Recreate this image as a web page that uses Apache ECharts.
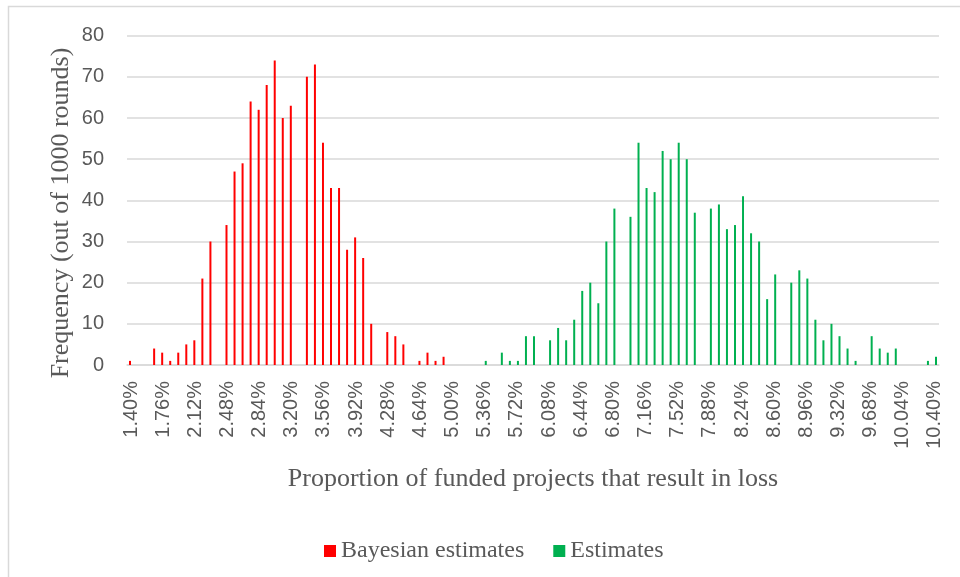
<!DOCTYPE html>
<html>
<head>
<meta charset="utf-8">
<script src="https://cdn.jsdelivr.net/npm/echarts@6/dist/echarts.min.js"></script>
<style>
  html, body { margin: 0; padding: 0; background: #ffffff; }
  #chart { width: 960px; height: 577px; }
</style>
</head>
<body>
<div id="chart"></div>
<script>
// Bin labels (0.09% wide bins)
var categories = [
  "1.40%","1.49%","1.58%","1.67%","1.76%","1.85%","1.94%","2.03%","2.12%","2.21%",
  "2.30%","2.39%","2.48%","2.57%","2.66%","2.75%","2.84%","2.93%","3.02%","3.11%",
  "3.20%","3.29%","3.38%","3.47%","3.56%","3.65%","3.74%","3.83%","3.92%","4.01%",
  "4.10%","4.19%","4.28%","4.37%","4.46%","4.55%","4.64%","4.73%","4.82%","4.91%",
  "5.00%","5.09%","5.18%","5.27%","5.36%","5.45%","5.54%","5.63%","5.72%","5.81%",
  "5.90%","5.99%","6.08%","6.17%","6.26%","6.35%","6.44%","6.53%","6.62%","6.71%",
  "6.80%","6.89%","6.98%","7.07%","7.16%","7.25%","7.34%","7.43%","7.52%","7.61%",
  "7.70%","7.79%","7.88%","7.97%","8.06%","8.15%","8.24%","8.33%","8.42%","8.51%",
  "8.60%","8.69%","8.78%","8.87%","8.96%","9.05%","9.14%","9.23%","9.32%","9.41%",
  "9.50%","9.59%","9.68%","9.77%","9.86%","9.95%","10.04%","10.13%","10.22%","10.31%",
  "10.40%"
];

var bayesianEstimates = [
  1, 0, 0, 4, 3, 1, 3, 5, 6, 21,
  30, 0, 34, 47, 49, 64, 62, 68, 74, 60,
  63, 0, 70, 73, 54, 43, 43, 28, 31, 26,
  10, 0, 8, 7, 5, 0, 1, 3, 1, 2,
  0, 0, 0, 0, 0, 0, 0, 0, 0, 0,
  0, 0, 0, 0, 0, 0, 0, 0, 0, 0,
  0, 0, 0, 0, 0, 0, 0, 0, 0, 0,
  0, 0, 0, 0, 0, 0, 0, 0, 0, 0,
  0, 0, 0, 0, 0, 0, 0, 0, 0, 0,
  0, 0, 0, 0, 0, 0, 0, 0, 0, 0,
  0
];

var estimates = [
  0, 0, 0, 0, 0, 0, 0, 0, 0, 0,
  0, 0, 0, 0, 0, 0, 0, 0, 0, 0,
  0, 0, 0, 0, 0, 0, 0, 0, 0, 0,
  0, 0, 0, 0, 0, 0, 0, 0, 0, 0,
  0, 0, 0, 0, 1, 0, 3, 1, 1, 7,
  7, 0, 6, 9, 6, 11, 18, 20, 15, 30,
  38, 0, 36, 54, 43, 42, 52, 50, 54, 50,
  37, 0, 38, 39, 33, 34, 41, 32, 30, 16,
  22, 0, 20, 23, 21, 11, 6, 10, 7, 4,
  1, 0, 7, 4, 3, 4, 0, 0, 0, 1,
  2
];

var yTicks = { min: 0, max: 80, interval: 10 };

var textColor = '#595959';
var gridColor = '#d9d9d9';
var serif = '"Liberation Serif", "Times New Roman", serif';
var sans = '"Liberation Sans", Arial, sans-serif';

var chart = echarts.init(document.getElementById('chart'), null, { renderer: 'canvas' });

chart.setOption({
  backgroundColor: '#ffffff',
  animation: false,
  grid: { left: 127, right: 21, top: 35.7, bottom: 212, containLabel: false },
  legend: {
    left: 324,
    top: 539,
    padding: 0,
    itemWidth: 12,
    itemHeight: 12,
    itemGap: 29,
    icon: 'rect',
    textStyle: { fontFamily: serif, fontSize: 24, color: textColor },
    data: ['Bayesian estimates', 'Estimates']
  },
  xAxis: {
    type: 'category',
    data: categories,
    boundaryGap: true,
    axisLine: { show: true, lineStyle: { color: gridColor, width: 1.5 } },
    axisTick: { show: false },
    axisLabel: {
      interval: 3,
      rotate: 90,
      margin: 16,
      color: textColor,
      fontFamily: sans,
      fontSize: 20
    },
    splitLine: { show: false }
  },
  yAxis: {
    type: 'value',
    min: yTicks.min,
    max: yTicks.max,
    interval: yTicks.interval,
    axisLine: { show: false },
    axisTick: { show: false },
    axisLabel: {
      margin: 23,
      color: textColor,
      fontFamily: sans,
      fontSize: 20
    },
    splitLine: { show: true, lineStyle: { color: gridColor, width: 1.5 } }
  },
  series: [
    {
      name: 'Bayesian estimates',
      type: 'bar',
      data: bayesianEstimates,
      barWidth: 2,
      barGap: '0%',
      itemStyle: { color: '#ff0000' }
    },
    {
      name: 'Estimates',
      type: 'bar',
      data: estimates,
      barWidth: 2,
      barGap: '0%',
      itemStyle: { color: '#00b050' }
    }
  ],
  graphic: [
    {
      type: 'rect',
      silent: true,
      shape: { x: 8.5, y: 6.5, width: 1000, height: 1000 },
      style: { fill: 'none', stroke: gridColor, lineWidth: 1.5 }
    },
    {
      type: 'text',
      silent: true,
      x: 61,
      y: 213,
      rotation: Math.PI / 2,
      style: {
        text: 'Frequency (out of 1000 rounds)',
        font: '26px ' + serif,
        fill: textColor,
        textAlign: 'center',
        textVerticalAlign: 'middle'
      }
    },
    {
      type: 'text',
      silent: true,
      x: 533,
      y: 479,
      style: {
        text: 'Proportion of funded projects that result in loss',
        font: '26px ' + serif,
        fill: textColor,
        textAlign: 'center',
        textVerticalAlign: 'middle'
      }
    }
  ]
});
</script>
</body>
</html>
